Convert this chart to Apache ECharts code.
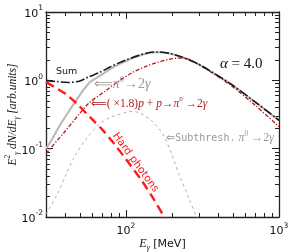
<!DOCTYPE html>
<html>
<head>
<meta charset="utf-8">
<script src="https://cdn.jsdelivr.net/npm/echarts@6/dist/echarts.min.js"></script>
<style>html,body{margin:0;padding:0;background:#fff}#c{width:294px;height:252px}</style>
</head>
<body>
<div id="c"></div>
<script>
// ---- data ----
var sumE = [30,35,42,50,57,67,78,90,100,120,142,160,190,224,288,350,479,700,1000];
var sumV = [1.0,0.96,0.93,0.98,1.12,1.3,1.55,1.8,1.98,2.3,2.55,2.6,2.5,2.25,1.8,1.4,0.9,0.48,0.26];

var pi0E = [30,33,36.5,40,47,57,67,78,90,100,120,142,160,190,224,288,350,479,700,1000];
var pi0V = [0.1,0.14,0.21,0.29,0.5,0.9,1.15,1.43,1.72,1.92,2.27,2.52,2.58,2.49,2.24,1.79,1.39,0.9,0.48,0.26];

var ppE = [30,40,50,57,74,90,110,135,157,190,224,250,288,350,479,700,1000];
var ppV = [0.085,0.18,0.33,0.46,0.71,0.98,1.3,1.6,1.8,2.02,2.12,2.08,1.78,1.37,0.86,0.43,0.21];

var hardE = [30,40,47,60,70,82,100,128,150,178,200];
var hardV = [0.94,0.64,0.47,0.27,0.19,0.125,0.07,0.033,0.019,0.01,0.0068];

var subE = [30,35,40,46,55,67,80,100,110,122,146,178,224,260,290,320];
var subV = [0.011,0.02,0.039,0.076,0.14,0.23,0.29,0.34,0.35,0.335,0.26,0.15,0.04,0.018,0.0098,0.005];

var xMajorTicks = [100, 1000];
var xMinorTicks = [30,40,50,60,70,80,90,200,300,400,500,600,700,800,900];
var yMajorTicks = [0.01, 0.1, 1, 10];
var yMinorTicks = [0.02,0.03,0.04,0.05,0.06,0.07,0.08,0.09,0.2,0.3,0.4,0.5,0.6,0.7,0.8,0.9,2,3,4,5,6,7,8,9];

function pairs(xs, ys){ return xs.map(function(x,i){ return [x, ys[i]]; }); }

var chart = echarts.init(document.getElementById('c'));
var AX = '#222';
var SERIF = '"Liberation Serif", "DejaVu Serif", serif';
var SANS = '"DejaVu Sans", sans-serif';

function powLabel(v){
  var e = Math.round(Math.log10(v));
  return '{b|10}{e|' + e + '}';
}
var powRich = {
  b: {fontSize: 11, fontFamily: SANS, color: '#111', lineHeight: 15, verticalAlign: 'bottom'},
  e: {fontSize: 7.5, fontFamily: SANS, color: '#111', lineHeight: 9, verticalAlign: 'top'}
};

function axisBase(kind, pos, ticks, len, withLine){
  var o = {
    type: 'log', logBase: 10, position: pos,
    min: kind === 'x' ? 30 : 0.01, max: kind === 'x' ? 1000 : 10,
    axisLine: {show: withLine, lineStyle: {color: AX, width: 1.3}},
    axisTick: {show: true, inside: true, length: len, customValues: ticks, lineStyle: {color: AX, width: 1}},
    axisLabel: {show: false},
    splitLine: {show: false}, minorTick: {show: false}, minorSplitLine: {show: false}
  };
  return o;
}

var xMain = axisBase('x', 'bottom', xMajorTicks, 7, true);
xMain.axisLabel = {show: true, customValues: xMajorTicks, margin: 5, formatter: powLabel, rich: powRich};
xMain.name = '{m|E}{sub|γ}{r| [MeV]}';
xMain.nameLocation = 'middle';
xMain.nameGap = 18;
xMain.nameMoveOverlap = false;
xMain.nameTextStyle = {rich: {
  m: {fontFamily: SERIF, fontStyle: 'italic', fontSize: 12, color: '#111', lineHeight: 15, verticalAlign: 'bottom'},
  sub: {fontFamily: SERIF, fontStyle: 'italic', fontSize: 8, color: '#111', lineHeight: 10, verticalAlign: 'bottom', padding: [0,0,-2,0]},
  r: {fontFamily: SANS, fontSize: 11, color: '#111', lineHeight: 15, verticalAlign: 'bottom'}
}};

var yMain = axisBase('y', 'left', yMajorTicks, 7, true);
yMain.axisLabel = {show: true, customValues: yMajorTicks, margin: 3, formatter: powLabel, rich: powRich};
yMain.name = '{m|E}{sup|2}{sub|γ}{m| dN/dE}{sub|γ}{m| [arb.units]}';
yMain.nameLocation = 'middle';
yMain.nameGap = 27;
yMain.nameMoveOverlap = false;
yMain.nameTextStyle = {rich: {
  m: {fontFamily: SERIF, fontStyle: 'italic', fontSize: 11.5, color: '#111', lineHeight: 15, verticalAlign: 'bottom'},
  sup: {fontFamily: SERIF, fontSize: 7.5, color: '#111', lineHeight: 9, verticalAlign: 'top'},
  sub: {fontFamily: SERIF, fontStyle: 'italic', fontSize: 7.5, color: '#111', lineHeight: 9, verticalAlign: 'bottom', padding: [0,0,-2,0]}
}};

var option = {
  animation: false,
  backgroundColor: '#fff',
  grid: {left: 46, right: 15, top: 12, bottom: 35, containLabel: false, outerBoundsMode: 'none'},
  xAxis: [
    xMain,
    axisBase('x', 'bottom', xMinorTicks, 4, false),
    axisBase('x', 'top', xMajorTicks, 7, true),
    axisBase('x', 'top', xMinorTicks, 4, false)
  ],
  yAxis: [
    yMain,
    axisBase('y', 'left', yMinorTicks, 4, false),
    axisBase('y', 'right', yMajorTicks, 7, true),
    axisBase('y', 'right', yMinorTicks, 4, false)
  ],
  series: [
    {name: 'pi0', type: 'line', data: pairs(pi0E, pi0V), smooth: 0.3, showSymbol: false, symbol: 'none',
     lineStyle: {color: '#b8b8b8', width: 2}},
    {name: 'sub', type: 'line', data: pairs(subE, subV), smooth: 0.3, showSymbol: false, symbol: 'none',
     lineStyle: {color: '#b0b0b0', width: 1, type: [3, 3]}},
    {name: 'pp', type: 'line', data: pairs(ppE, ppV), smooth: 0.3, showSymbol: false, symbol: 'none',
     lineStyle: {color: '#b31b1b', width: 1.3, type: [4, 1.8, 1.2, 1.8]}},
    {name: 'hard', type: 'line', data: pairs(hardE, hardV), smooth: 0.3, showSymbol: false, symbol: 'none',
     lineStyle: {color: '#ff1a1a', width: 2.4, type: [9, 5]}},
    {name: 'sum', type: 'line', data: pairs(sumE, sumV), smooth: 0.3, showSymbol: false, symbol: 'none',
     lineStyle: {color: '#1a1a1a', width: 1.6, type: [9, 2.2, 1.6, 2.2]}}
  ],
  graphic: [
    {type: 'text', x: 56, y: 72, z: 100, style: {text: 'Sum', fontFamily: SANS, fontSize: 9.5, fill: '#111', verticalAlign: 'middle'}},
    {type: 'text', x: 94, y: 83, z: 100, style: {
      text: '{a|⟸}{m|π}{s|0}{r|→2}{m|γ}', verticalAlign: 'middle', fill: '#999',
      rich: {
        a: {fontFamily: SANS, fontSize: 13, fill: '#999', lineHeight: 16, verticalAlign: 'bottom'},
        m: {fontFamily: SERIF, fontStyle: 'italic', fontSize: 14, fill: '#999', lineHeight: 16, verticalAlign: 'bottom'},
        s: {fontFamily: SERIF, fontSize: 8.5, fill: '#999', lineHeight: 9, verticalAlign: 'top'},
        r: {fontFamily: SERIF, fontSize: 14, fill: '#999', lineHeight: 16, verticalAlign: 'bottom'}
      }}},
    {type: 'text', x: 91, y: 103, z: 100, style: {
      text: '{a|⟸}{r|( ×1.8)}{m|p}{r| + }{m|p}{r|→}{m|π}{s|0}{r| →2}{m|γ}', verticalAlign: 'middle', fill: '#b31b1b',
      rich: {
        a: {fontFamily: SANS, fontSize: 11, fill: '#b31b1b', lineHeight: 14, verticalAlign: 'bottom'},
        m: {fontFamily: SERIF, fontStyle: 'italic', fontSize: 11.5, fill: '#b31b1b', lineHeight: 14, verticalAlign: 'bottom'},
        s: {fontFamily: SERIF, fontSize: 7, fill: '#b31b1b', lineHeight: 9, verticalAlign: 'top'},
        r: {fontFamily: SERIF, fontSize: 11.5, fill: '#b31b1b', lineHeight: 14, verticalAlign: 'bottom'}
      }}},
    {type: 'text', x: 220, y: 64, z: 100, style: {
      text: '{m|α}{r| = 4.0}', verticalAlign: 'middle',
      rich: {
        m: {fontFamily: SERIF, fontStyle: 'italic', fontSize: 15, fill: '#111'},
        r: {fontFamily: SERIF, fontSize: 15, fill: '#111'}
      }}},
    {type: 'text', x: 166, y: 137, z: 100, style: {
      text: '{a|⇐}{t|Subthresh.}{m| π}{s|0}{r| →2}{m|γ}', verticalAlign: 'middle',
      rich: {
        a: {fontFamily: SANS, fontSize: 11, fill: '#999', lineHeight: 13, verticalAlign: 'bottom'},
        t: {fontFamily: '"DejaVu Sans Mono", monospace', fontSize: 10, fill: '#999', lineHeight: 13, verticalAlign: 'bottom'},
        m: {fontFamily: SERIF, fontStyle: 'italic', fontSize: 12, fill: '#999', lineHeight: 13, verticalAlign: 'bottom'},
        s: {fontFamily: SERIF, fontSize: 7.5, fill: '#999', lineHeight: 8, verticalAlign: 'top'},
        r: {fontFamily: SERIF, fontSize: 12, fill: '#999', lineHeight: 13, verticalAlign: 'bottom'}
      }}},
    {type: 'text', x: 135.5, y: 162.5, rotation: -54 * Math.PI / 180, z: 100, style: {
      text: 'Hard photons', fontFamily: SANS, fontSize: 10.5, fill: '#ff1a1a', align: 'center', verticalAlign: 'middle'}}
  ]
};
chart.setOption(option);
</script>
</body>
</html>
